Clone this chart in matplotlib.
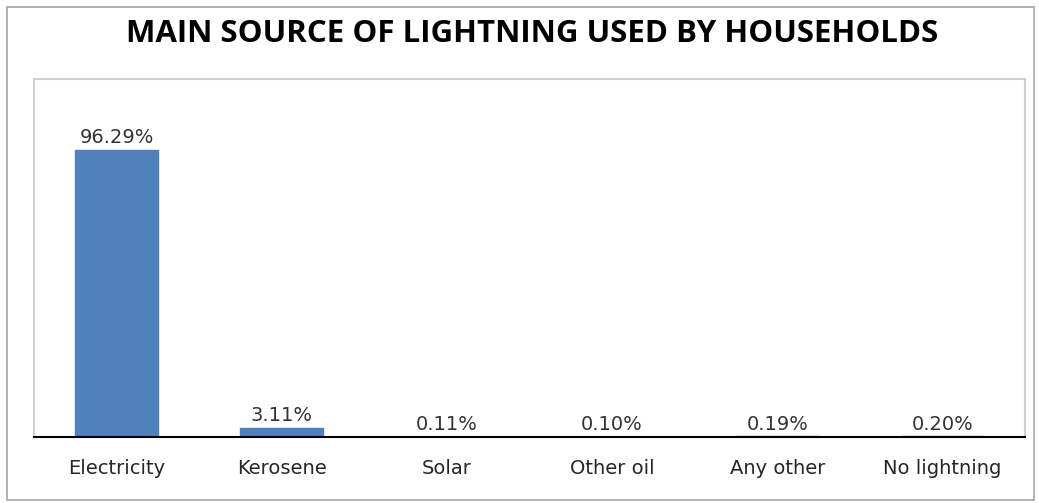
import matplotlib.pyplot as plt
from matplotlib.patches import Rectangle

# Données
categories = ['Electricity', 'Kerosene', 'Solar', 'Other oil', 'Any other', 'No lightning']
values = [96.29, 3.11, 0.11, 0.10, 0.19, 0.20]
labels = ['96.29%', '3.11%', '0.11%', '0.10%', '0.19%', '0.20%']

fig = plt.figure(figsize=(10.39, 5.03), dpi=100)
ax = fig.add_axes([0.0327, 0.1312, 0.9538, 0.7118])

# Cadre extérieur gris
fig.patches.append(Rectangle((0.007, 0.006), 0.988, 0.981, transform=fig.transFigure,
                             fill=False, edgecolor='#a6a6a6', linewidth=1.2))

x = range(len(categories))
bars = ax.bar(x, values, width=0.5, color='#4f81bd', edgecolor='#4f81bd')

for xi, v, lab in zip(x, values, labels):
    ax.text(xi, v + 0.8, lab, ha='center', va='bottom', fontsize=14,
            family='DejaVu Sans', color='#333333')

ax.set_xlim(-0.5, len(categories) - 0.5)
ax.set_ylim(0, 120)
ax.set_yticks([])
ax.set_xticks(list(x))
ax.set_xticklabels(categories, fontsize=14, family='DejaVu Sans', color='#262626')
ax.tick_params(axis='x', length=0, pad=16)

for side in ['top', 'left', 'right']:
    ax.spines[side].set_color('#d0d0d0')
    ax.spines[side].set_linewidth(1.5)
ax.spines['bottom'].set_color('black')
ax.spines['bottom'].set_linewidth(1.5)

fig.text(0.512, 0.932, 'MAIN SOURCE OF LIGHTNING USED BY HOUSEHOLDS', ha='center', va='center',
         fontsize=22.5, fontweight='bold', family='Open Sans', color='black')

fig.savefig('out.png', dpi=100)
